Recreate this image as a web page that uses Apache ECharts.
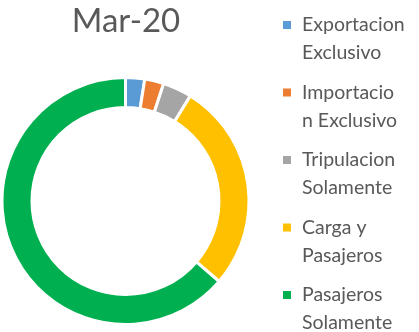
<!DOCTYPE html>
<html>
<head>
<meta charset="utf-8">
<script src="https://cdn.jsdelivr.net/npm/echarts@6/dist/echarts.min.js"></script>
<style>
  html, body { margin: 0; padding: 0; background: #fff; }
  #chart { width: 419px; height: 332px; }
</style>
</head>
<body>
<div id="chart"></div>
<script>
// Share of operations by type, March 2020
const categories = ['Exportacion Exclusivo', 'Importacion Exclusivo', 'Tripulacion Solamente', 'Carga y Pasajeros', 'Pasajeros Solamente'];
const legendLines = [['Exportacion', 'Exclusivo'], ['Importacio', 'n Exclusivo'], ['Tripulacion', 'Solamente'], ['Carga y', 'Pasajeros'], ['Pasajeros', 'Solamente']];
const shares = [2.5, 2.5, 3.8, 27.5, 63.7];
const palette = ['#5B9BD5', '#ED7D31', '#A5A5A5', '#FFC000', '#00B050'];
const titleText = 'Mar-20';

const FONT = 'Lato';
const TEXT_COLOR = '#595959';

const rich = {
  t: { fontFamily: FONT, fontSize: 19.5, lineHeight: 28, color: TEXT_COLOR },
  gap: { width: 11 },
  pad: { width: 19 }
};
palette.forEach((c, i) => {
  rich['m' + i] = { width: 8, height: 8, backgroundColor: c, fontSize: 1, lineHeight: 28 };
});

const chart = echarts.init(document.getElementById('chart'), null, { renderer: 'canvas' });
chart.setOption({
  animation: false,
  title: {
    text: titleText,
    left: 121,
    textAlign: 'center',
    top: 0,
    textStyle: { fontFamily: FONT, fontSize: 33, fontWeight: 'normal', color: TEXT_COLOR }
  },
  legend: {
    orient: 'vertical',
    left: 277,
    top: 15,
    height: 330,
    padding: 0,
    itemGap: 19.5,
    itemWidth: 0,
    itemHeight: 0,
    icon: 'rect',
    data: categories,
    formatter: name => {
      const i = categories.indexOf(name);
      const l = legendLines[i];
      return '{m' + i + '| }{gap| }{t|' + l[0] + '}\n{pad| }{t|' + l[1] + '}';
    },
    textStyle: { rich }
  },
  series: [{
    type: 'pie',
    center: [125.5, 201],
    radius: [93.5, 123.5],
    startAngle: 90,
    clockwise: true,
    avoidLabelOverlap: false,
    label: { show: false },
    labelLine: { show: false },
    emphasis: { disabled: true },
    itemStyle: { borderColor: '#ffffff', borderWidth: 3 },
    data: categories.map((name, i) => ({ name, value: shares[i], itemStyle: { color: palette[i] } }))
  }]
});
</script>
</body>
</html>
